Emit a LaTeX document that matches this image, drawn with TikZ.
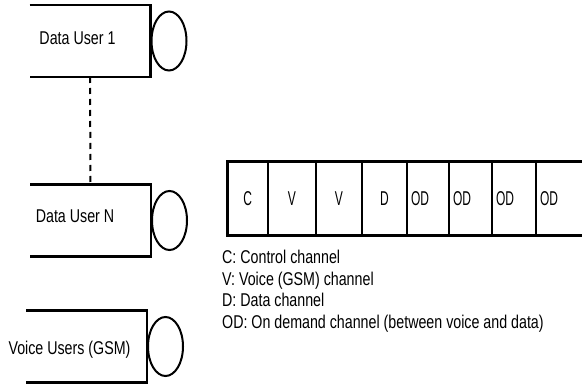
\documentclass[tikz,border=0pt]{standalone}
\usepackage{fontspec}
\setmainfont{Liberation Sans}[FakeStretch=0.77]
\newfontfamily\cellfont{Liberation Sans}[FakeStretch=0.6]
\usetikzlibrary{shapes.geometric, positioning}
\tikzstyle{userbox} = [rectangle, minimum width=121pt, minimum height=72pt, inner sep=0pt, outer sep=0pt]
\tikzstyle{frame} = [line width=2.4pt]
\tikzstyle{port} = [ellipse, draw, line width=2pt, minimum width=35pt, minimum height=59pt, inner sep=0pt, outer sep=0pt]
\tikzstyle{username} = [font=\fontsize{18.5}{21}\selectfont, inner sep=0pt, anchor=base]
\tikzstyle{link} = [line width=2pt, dash pattern=on 6pt off 5pt]
\tikzstyle{cell} = [rectangle, minimum height=74pt, inner sep=0pt, outer sep=0pt, font=\cellfont\fontsize{20}{23}\selectfont]
\tikzset{od/.style={cell, align=left, text width=#1, inner xsep=4pt}}
\tikzstyle{rowframe} = [line width=3pt]
\tikzstyle{divider} = [line width=1.8pt]
\tikzstyle{keytext} = [font=\fontsize{18.5}{21}\selectfont, inner sep=0pt, anchor=base west]

\begin{document}
\begin{tikzpicture}[x=1pt, y=-1pt]
        \useasboundingbox (0,0) rectangle (582,385);

        % users, each an open box with a port on its right
        \node (du1) [userbox] at (90,41) {};
        \node (du1name) [username] at (77.5,44.5) {Data User 1};
        \node (du1port) [port, right=1pt of du1] {};

        \node (duN) [userbox] at (90.5,220.5) {};
        \node (duNname) [username] at (75,222.5) {Data User N};
        \node (duNport) [port, right=1pt of duN] {};

        \node (voice) [userbox] at (86.5,346.5) {};
        \node (voicename) [username] at (69.5,354.5) {Voice Users (GSM)};
        \node (voiceport) [port, right=1pt of voice] {};

        \draw [frame] (du1.north west) -- (du1.north east) -- (du1.south east) -- (du1.south west);
        \draw [frame] (duN.north west) -- (duN.north east) -- (duN.south east) -- (duN.south west);
        \draw [frame] (voice.north west) -- (voice.north east) -- (voice.south east) -- (voice.south west);

        \draw [link] (du1) -- (duN);

        % channel row
        \node (c1) [cell, minimum width=41.3pt, anchor=west] at (227,199) {C};
        \node (c2) [cell, minimum width=47.4pt, right=0pt of c1] {V};
        \node (c3) [cell, minimum width=46.3pt, right=0pt of c2] {V};
        \node (c4) [cell, minimum width=45pt, right=0pt of c3] {D};
        \node (c5) [od=34pt, right=0pt of c4] {OD};
        \node (c6) [od=35pt, right=0pt of c5] {OD};
        \node (c7) [od=36pt, right=0pt of c6] {OD};
        \node (c8) [od=40pt, right=0pt of c7] {OD};

        \draw [rowframe] (c8.north east) -- (c1.north west) -- (c1.south west) -- (c8.south east);
        \foreach \i in {1,...,7}
            \draw [divider] (c\i.north east) -- (c\i.south east);

        % key
        \node (key1) [keytext] at (222,264) {C: Control channel};
        \node (key2) [keytext] at ([yshift=-21.5pt]key1.base west) {V: Voice (GSM) channel};
        \node (key3) [keytext] at ([yshift=-21.5pt]key2.base west) {D: Data channel};
        \node (key4) [keytext] at ([yshift=-21.5pt]key3.base west) {OD: On demand channel (between voice and data)};
\end{tikzpicture}
\end{document}
